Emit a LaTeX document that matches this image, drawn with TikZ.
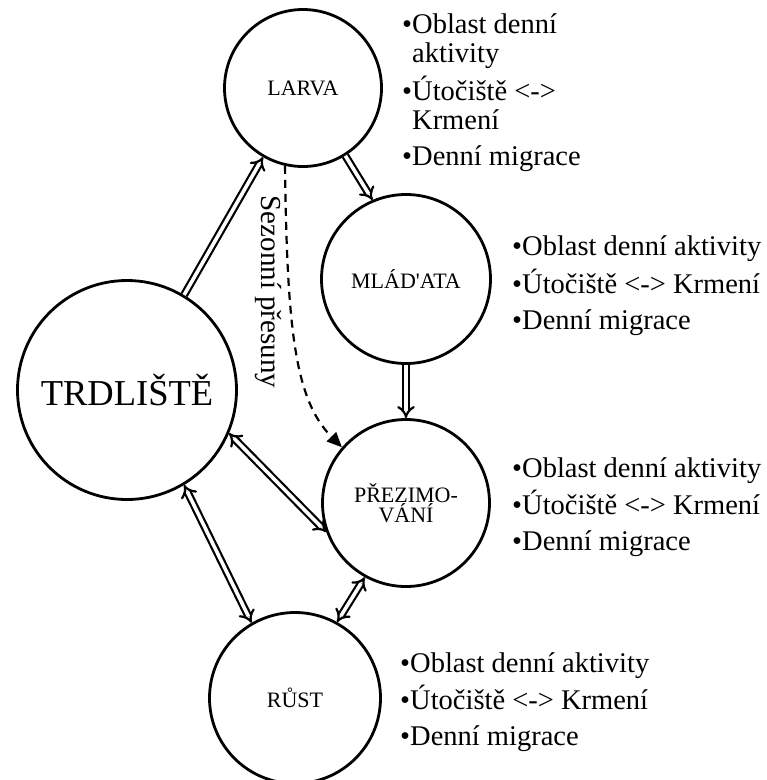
\documentclass[tikz,border=0pt]{standalone}
\usepackage{fontspec}
\setmainfont{Liberation Serif}
\usetikzlibrary{arrows.meta}
\newcommand{\bblock}[1]{\parbox[t]{330pt}{\raggedright\fontsize{28.5}{29.5}\selectfont #1}}
\begin{document}
\begin{tikzpicture}[x=1pt,y=-1pt,
  stage/.style={circle, draw, line width=2.8pt, inner sep=0pt, align=center,
    font=\fontsize{22}{18.5}\selectfont},
  dbl/.style={double, double distance=3.6pt, line width=2.2pt},
  bl/.style={anchor=base west, inner sep=0pt}]
\useasboundingbox (0,0) rectangle (767,780);
\node[stage, minimum size=157pt] (larva) at (303,88) {LARVA};
\node[stage, minimum size=169pt] (mladata) at (406,279) {MLÁD\textquotesingle ATA};
\node[stage, minimum size=167pt] (prez) at (406,503) {PŘEZIMO-\\VÁNÍ};
\node[stage, minimum size=171pt] (rust) at (295,698) {RŮST};
\node[stage, minimum size=219pt, font=\fontsize{36.5}{40}\selectfont] (trd) at (127,390) {TRDLIŠTĚ};
% connectors
\draw[dbl,-{Implies}] (trd.59) -- (larva.-120);
\draw[dbl,-{Implies}] (larva.-58) -- (mladata.113);
\draw[dbl,-{Implies}] (mladata.south) -- (prez.north);
\draw[dbl,{Implies}-{Implies}] (trd.-23) -- (prez.200);
\draw[dbl,{Implies}-{Implies}] (trd.-59) -- (rust.120);
\draw[dbl,{Implies}-{Implies}] (prez.-119) -- (rust.61);
\draw[dash pattern=on 8pt off 6pt, line width=2.2pt, -{Triangle[length=15pt,width=13pt]}]
  (larva.-103) .. controls (287,330) and (295,400) .. (prez.139);
\node[anchor=base, rotate=-90, inner sep=0pt, font=\fontsize{29}{30}\selectfont] (sez) at (261,292) {Sezonní přesuny};
% bullet lists
\node[bl] (tlarva) at (402,33) {\bblock{•Oblast denní\\\phantom{•}aktivity\\[6pt]•Útočiště <->\\\phantom{•}Krmení\\[6pt]•Denní migrace}};
\node[bl] (tmladata) at (512,255) {\bblock{•Oblast denní aktivity\\[6.5pt]•Útočiště <-> Krmení\\[6.5pt]•Denní migrace}};
\node[bl] (tprez) at (512,477) {\bblock{•Oblast denní aktivity\\[6pt]•Útočiště <-> Krmení\\[6pt]•Denní migrace}};
\node[bl] (trust) at (400,672) {\bblock{•Oblast denní aktivity\\[6pt]•Útočiště <-> Krmení\\[6pt]•Denní migrace}};
\end{tikzpicture}
\end{document}
